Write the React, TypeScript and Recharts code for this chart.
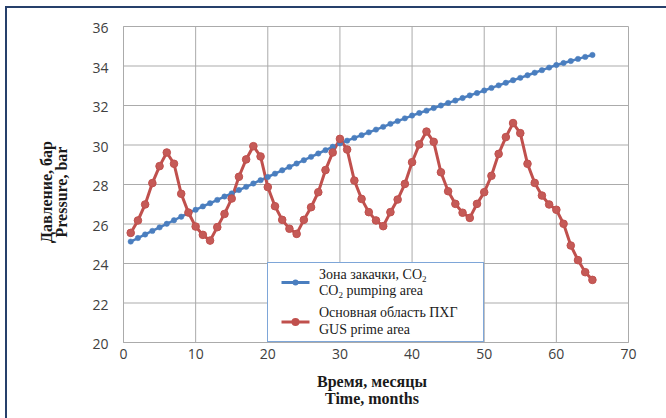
import React from 'react';
import { LineChart, Line, XAxis, YAxis, CartesianGrid, Legend } from 'recharts';

const months = [
  1, 2, 3, 4, 5, 6, 7, 8, 9, 10, 11, 12, 13, 14, 15, 16, 17, 18, 19, 20,
  21, 22, 23, 24, 25, 26, 27, 28, 29, 30, 31, 32, 33, 34, 35, 36, 37, 38, 39, 40,
  41, 42, 43, 44, 45, 46, 47, 48, 49, 50, 51, 52, 53, 54, 55, 56, 57, 58, 59, 60,
  61, 62, 63, 64, 65,
];

const co2Pumping = [
  25.11, 25.29, 25.47, 25.65, 25.83, 26.01, 26.19, 26.37, 26.55, 26.72,
  26.89, 27.05, 27.22, 27.39, 27.55, 27.72, 27.88, 28.05, 28.22, 28.38,
  28.55, 28.72, 28.89, 29.06, 29.23, 29.4, 29.57, 29.74, 29.91, 30.08,
  30.22, 30.36, 30.5, 30.64, 30.78, 30.92, 31.07, 31.21, 31.35, 31.49,
  31.62, 31.74, 31.87, 32.0, 32.13, 32.25, 32.38, 32.51, 32.63, 32.76,
  32.89, 33.02, 33.15, 33.28, 33.4, 33.53, 33.66, 33.79, 33.92, 34.05,
  34.15, 34.25, 34.36, 34.46, 34.56,
];

const gusPrime = [
  25.55, 26.18, 26.99, 28.07, 28.93, 29.62, 29.05, 27.53, 26.58, 25.87,
  25.45, 25.16, 25.84, 26.51, 27.29, 28.39, 29.27, 29.94, 29.42, 27.87,
  26.9, 26.21, 25.76, 25.5, 26.21, 26.85, 27.61, 28.73, 29.62, 30.31,
  29.77, 28.2, 27.27, 26.6, 26.18, 25.89, 26.6, 27.24, 28.03, 29.13,
  30.03, 30.68, 30.16, 28.62, 27.66, 27.02, 26.57, 26.31, 27.02, 27.61,
  28.44, 29.55, 30.4, 31.11, 30.6, 29.05, 28.08, 27.44, 26.99, 26.72,
  26.01, 24.91, 24.17, 23.56, 23.17,
];

const xTicks = [0, 10, 20, 30, 40, 50, 60, 70];
const yTicks = [20, 22, 24, 26, 28, 30, 32, 34, 36];

const xTitle = ['Время, месяцы', 'Time, months'];
const yTitle = ['Давление, бар', 'Pressure, bar'];

const BLUE = '#4a7ebf';
const RED = '#c0504d';
const GRID = '#ababab';

const data = months.map((m, i) => ({ month: m, co2: co2Pumping[i], gus: gusPrime[i] }));

const tickStyle = { fontFamily: 'Open Sans', fontSize: 14, fill: '#404040' };
const titleFont = { fontFamily: 'Liberation Serif', fontWeight: 700, fontSize: 16, fill: '#1a1a1a' };

const XTitle = (props: any) => {
  const vb = props.viewBox || {};
  const cx = vb.x + vb.width / 2 - 4;
  return (
    <text textAnchor="middle" style={titleFont}>
      <tspan x={cx} y={387}>{xTitle[0]}</tspan>
      <tspan x={cx} y={404}>{xTitle[1]}</tspan>
    </text>
  );
};

const YTitle = () => {
  const cy = 192;
  return (
    <g style={titleFont}>
      <text x={52} y={cy} textAnchor="middle" transform={`rotate(-90 52 ${cy})`}>{yTitle[0]}</text>
      <text x={67} y={cy} textAnchor="middle" transform={`rotate(-90 67 ${cy})`}>{yTitle[1]}</text>
    </g>
  );
};

const legendFont = { fontFamily: 'Liberation Serif', fontSize: 14, fill: '#1a1a1a' };

const LegendBox = () => (
  <div
    style={{
      width: 217,
      height: 80,
      boxSizing: 'border-box',
      border: '1px solid #7ea6d8',
      background: '#fff',
    }}
  >
    <svg width={215} height={78} style={{ display: 'block' }}>
      <line x1={13.5} y1={19.5} x2={41.5} y2={19.5} stroke={BLUE} strokeWidth={3} />
      <circle cx={27.5} cy={19.5} r={3} fill={BLUE} />
      <text x={51} y={15.5} style={legendFont}>
        Зона закачки, CO<tspan fontSize={9} dy={3}>2</tspan>
      </text>
      <text x={51} y={32} style={legendFont}>
        CO<tspan fontSize={9} dy={3}>2</tspan><tspan dy={-3}> pumping area</tspan>
      </text>
      <line x1={13.5} y1={59} x2={41.5} y2={59} stroke={RED} strokeWidth={3} />
      <circle cx={27.5} cy={59} r={4} fill={RED} />
      <text x={51} y={54} style={legendFont}>Основная область ПХГ</text>
      <text x={51} y={70.5} style={legendFont}>GUS prime area</text>
    </svg>
  </div>
);

export default function App() {
  return (
    <div
      style={{
        position: 'absolute',
        left: 0,
        top: 0,
        width: 666,
        height: 418,
        overflow: 'hidden',
        background: '#fff',
      }}
    >
      <LineChart
        width={666}
        height={418}
        data={data}
        margin={{ top: 26.5, right: 37.5, bottom: 45.5, left: 63.5 }}
      >
        <CartesianGrid stroke={GRID} strokeWidth={1} />
        <XAxis
          dataKey="month"
          type="number"
          domain={[0, 70]}
          ticks={xTicks}
          interval={0}
          tickLine={false}
          tickSize={0}
          tickMargin={7}
          axisLine={{ stroke: GRID }}
          tick={tickStyle}
          label={<XTitle />}
          height={30}
        />
        <YAxis
          type="number"
          domain={[20, 36]}
          ticks={yTicks}
          interval={0}
          tickLine={false}
          tickSize={0}
          tickMargin={15}
          axisLine={{ stroke: GRID }}
          tick={{ ...tickStyle, dy: 2 }}
          width={60}
          label={<YTitle />}
        />
        <Line
          type="linear"
          dataKey="co2"
          stroke={BLUE}
          strokeWidth={2.5}
          dot={{ r: 2.7, fill: BLUE, stroke: BLUE, strokeWidth: 0.5 }}
          isAnimationActive={false}
        />
        <Line
          type="linear"
          dataKey="gus"
          stroke={RED}
          strokeWidth={3}
          dot={{ r: 3.8, fill: '#c55a57', stroke: RED, strokeWidth: 1 }}
          isAnimationActive={false}
        />
        <Legend
          layout="horizontal"
          verticalAlign="middle"
          align="center"
          wrapperStyle={{ left: 267, top: 262, width: 217, height: 80 }}
          content={<LegendBox />}
        />
      </LineChart>
      <div
        style={{
          position: 'absolute',
          left: 5,
          top: 6,
          width: 700,
          height: 500,
          borderTop: '2px solid #26406b',
          borderLeft: '2px solid #26406b',
          pointerEvents: 'none',
        }}
      />
    </div>
  );
}
